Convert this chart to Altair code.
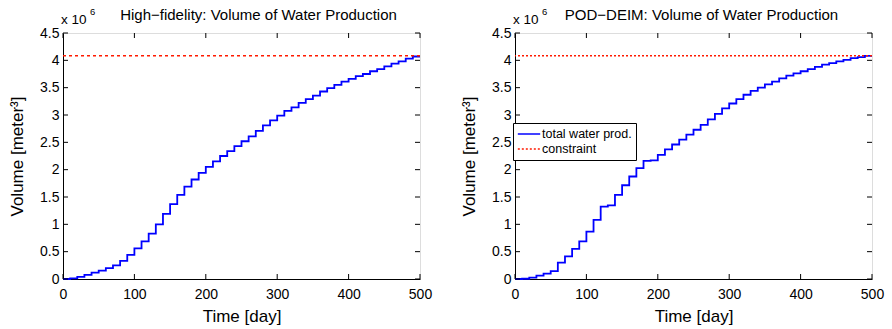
import altair as alt
import pandas as pd

# ---- data (volumes in units of 10^6 m^3, one value per 10-day step) ----
T_STEP = [0, 10, 20, 30, 40, 50, 60, 70, 80, 90,
          100, 110, 120, 130, 140, 150, 160, 170, 180, 190,
          200, 210, 220, 230, 240, 250, 260, 270, 280, 290,
          300, 310, 320, 330, 340, 350, 360, 370, 380, 390,
          400, 410, 420, 430, 440, 450, 460, 470, 480, 490]
T_END = 500

HF_VOL = [0, 0.01, 0.04, 0.075, 0.115, 0.155, 0.2, 0.25, 0.33, 0.44,
          0.56, 0.69, 0.83, 1.0, 1.19, 1.37, 1.54, 1.69, 1.82, 1.94,
          2.05, 2.15, 2.25, 2.34, 2.43, 2.52, 2.61, 2.71, 2.81, 2.90,
          2.99, 3.075, 3.14, 3.22, 3.29, 3.355, 3.43, 3.49, 3.55, 3.61,
          3.66, 3.71, 3.75, 3.80, 3.84, 3.89, 3.94, 3.98, 4.03, 4.07]

POD_VOL = [0, 0.005, 0.025, 0.06, 0.10, 0.145, 0.30, 0.415, 0.55, 0.69,
           0.865, 1.08, 1.325, 1.345, 1.54, 1.715, 1.875, 2.03, 2.16, 2.17,
           2.27, 2.37, 2.46, 2.55, 2.64, 2.73, 2.82, 2.92, 3.02, 3.12,
           3.21, 3.29, 3.37, 3.44, 3.50, 3.56, 3.61, 3.67, 3.72, 3.76,
           3.80, 3.84, 3.88, 3.92, 3.95, 3.98, 4.01, 4.04, 4.06, 4.08]

CONSTRAINT = 4.085

X_TICKS = [0, 100, 200, 300, 400, 500]
Y_TICKS = [0, 0.5, 1, 1.5, 2, 2.5, 3, 3.5, 4, 4.5]

TITLES = ["High\u2212fidelity: Volume of Water Production",
          "POD\u2212DEIM: Volume of Water Production"]
SERIES = ["total water prod.", "constraint"]

W, H = 357, 246
FONT = "Liberation Sans"
TL = 5  # inner tick length
BLUE = "#0000ff"
RED = "#ff1a00"


def panel(vol, title, dx, legend):
    df = pd.DataFrame({"t": T_STEP + [T_END], "v": vol + [vol[-1]],
                       "s": SERIES[0]})
    cdf = pd.DataFrame({"c": [CONSTRAINT], "s": [SERIES[1]]})
    xt = pd.DataFrame({"x": X_TICKS})
    yt = pd.DataFrame({"y": Y_TICKS})

    xs = alt.Scale(domain=[0, 500], nice=False, zero=False)
    ys = alt.Scale(domain=[0, 4.5], nice=False, zero=False)

    xax = alt.Axis(values=X_TICKS, ticks=False, grid=False, labelFontSize=14,
                   labelPadding=8, labelFont=FONT, labelColor="black",
                   labelOverlap=False, labelFlush=False,
                   title="Time [day]", titleFont=FONT, titleFontSize=17,
                   titleFontWeight="normal", titleColor="black", titlePadding=7,
                   domainColor="black")
    yax = alt.Axis(values=Y_TICKS, ticks=False, grid=False, labelFontSize=14,
                   labelPadding=4, labelFont=FONT, labelColor="black", format="~g",
                   labelOverlap=False, labelFlush=False,
                   title="Volume [meter\u00b3]", titleFont=FONT, titleFontSize=17,
                   titleFontWeight="normal", titleColor="black", titlePadding=13,
                   domainColor="black")

    X = lambda f: alt.X(f, scale=xs, axis=xax, title="Time [day]")
    Y = lambda f: alt.Y(f, scale=ys, axis=yax, title="Volume [meter\u00b3]")

    if legend:
        col = alt.Color("s:N", scale=alt.Scale(domain=SERIES, range=[BLUE, RED]),
                        legend=alt.Legend(orient="none", legendX=-2, legendY=90,
                                          title=None, symbolType="stroke",
                                          symbolSize=500, symbolStrokeWidth=1.5,
                                          labelFont=FONT, labelFontSize=12.5,
                                          labelColor="black", labelOffset=1,
                                          strokeColor="black", fillColor="white",
                                          padding=4, rowPadding=1, clipHeight=14,
                                          symbolOffset=0))
        dash = alt.StrokeDash("s:N", scale=alt.Scale(domain=SERIES, range=[[1, 0], [2, 2]]),
                              legend=alt.Legend(orient="none", legendX=-2, legendY=90, title=None))
        line = alt.Chart(df).mark_line(interpolate="step-after", strokeWidth=1.8).encode(
            x=X("t:Q"), y=Y("v:Q"), color=col, strokeDash=dash)
        rule = alt.Chart(cdf).mark_rule(strokeWidth=1.5).encode(
            y=Y("c:Q"), color=col, strokeDash=dash)
    else:
        line = alt.Chart(df).mark_line(interpolate="step-after", strokeWidth=1.8,
                                       color=BLUE).encode(x=X("t:Q"), y=Y("v:Q"))
        rule = alt.Chart(cdf).mark_rule(strokeWidth=1.5, color=RED,
                                        strokeDash=[3, 3]).encode(y=Y("c:Q"))

    tb = alt.Chart(xt).mark_rule(color="black").encode(
        x=X("x:Q"), y=alt.value(H), y2=alt.value(H - TL))
    tt = alt.Chart(xt).mark_rule(color="black").encode(
        x=X("x:Q"), y=alt.value(0), y2=alt.value(TL))
    tl = alt.Chart(yt).mark_rule(color="black").encode(
        y=Y("y:Q"), x=alt.value(0), x2=alt.value(TL))
    tr = alt.Chart(yt).mark_rule(color="black").encode(
        y=Y("y:Q"), x=alt.value(W), x2=alt.value(W - TL))

    mult = alt.Chart(pd.DataFrame({"a": ["x 10"]})).mark_text(
        align="left", baseline="alphabetic", font=FONT, fontSize=13.5, color="black",
        dx=-2).encode(x=alt.value(0), y=alt.value(-9), text="a:N")
    expo = alt.Chart(pd.DataFrame({"a": ["6"]})).mark_text(
        align="left", baseline="alphabetic", font=FONT, fontSize=9.5, color="black",
        dx=27).encode(x=alt.value(0), y=alt.value(-18), text="a:N")

    return alt.layer(line, rule, tb, tt, tl, tr, mult, expo).properties(
        width=W, height=H,
        title=alt.TitleParams(title, font=FONT, fontSize=15, fontWeight="normal",
                              color="black", dx=dx, dy=23, offset=7, frame="group"))


left = panel(HF_VOL, TITLES[0], 17, False)
right = panel(POD_VOL, TITLES[1], 8, True)

chart = alt.hconcat(left, right, spacing=27).resolve_scale(
    color="independent", strokeDash="independent"
).properties(padding={"left": 8, "top": 6, "right": 5, "bottom": 3}).configure_view(
    stroke="black", strokeWidth=1
).configure(background="white")

chart.save("out.html", embed_options={"renderer": "svg", "actions": False})
